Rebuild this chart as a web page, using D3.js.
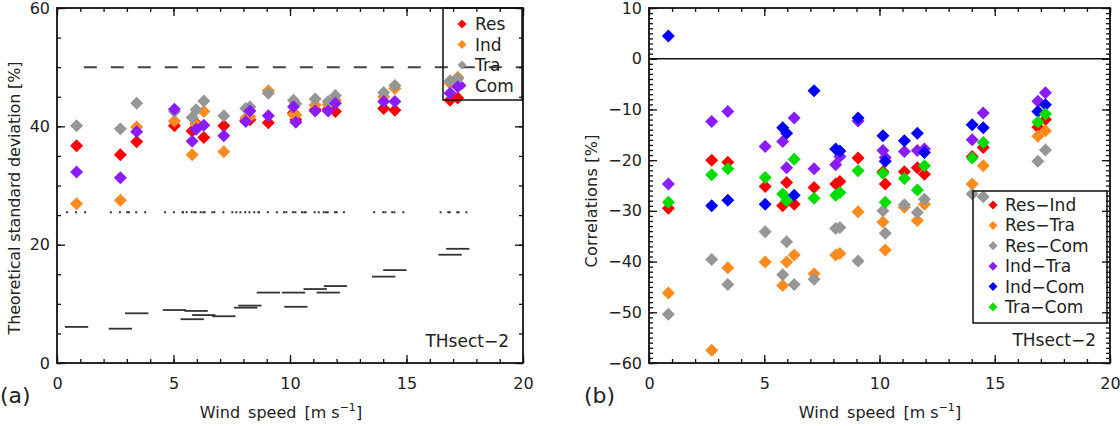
<!DOCTYPE html>
<html><head><meta charset="utf-8">
<script src="https://cdn.jsdelivr.net/npm/d3@7"></script>
<style>
body{margin:0;background:#fff;}
svg{display:block;font-family:"DejaVu Sans",sans-serif;}
</style></head>
<body><svg id="c" width="1120" height="426"></svg>
<script>
// ---------- data ----------
const windSpeed = [0.84, 2.72, 3.42, 5.04, 5.80, 5.97, 6.30, 7.16, 8.10, 8.28, 9.07, 10.15, 10.25, 11.08, 11.64, 11.95, 14.02, 14.50, 16.87, 17.20];

// panel (a): theoretical standard deviation [%]
const sdRes = [36.7, 35.2, 37.4, 40.1, 39.2, 40.5, 38.1, 40.1, 41.0, 41.1, 40.6, 42.3, 41.1, 42.8, 42.9, 42.5, 43.0, 42.7, 44.4, 44.8];
const sdInd = [26.9, 27.5, 39.9, 40.9, 35.2, 40.3, 42.5, 35.7, 41.4, 41.6, 46.0, 42.0, 41.9, 43.6, 43.7, 44.4, 45.0, 46.4, 47.3, 48.3];
const sdTra = [40.1, 39.6, 43.9, 42.5, 41.5, 42.8, 44.3, 41.8, 43.0, 43.3, 45.6, 44.4, 43.8, 44.6, 44.2, 45.2, 45.7, 46.9, 47.7, 48.1];
const sdCom = [32.3, 31.3, 39.1, 42.9, 37.5, 39.5, 40.2, 38.4, 40.8, 42.6, 41.8, 43.3, 40.7, 42.6, 42.6, 43.9, 44.2, 44.2, 45.6, 46.7];
const sdBar = [6.1, 5.8, 8.4, 8.95, 7.4, 8.8, 8.1, 7.9, 9.35, 9.7, 11.9, 11.9, 9.5, 12.5, 11.9, 13.0, 14.6, 15.7, 18.3, 19.3];
const sdDot = [25.5, 25.5, 25.5, 25.5, 25.5, 25.5, 25.5, 25.5, 25.5, 25.5, 25.5, 25.5, 25.5, 25.5, 25.5, 25.5, 25.5, 25.5, 25.5, 25.5];
const sdRef = 50;
const sdSeries = ["Res", "Ind", "Tra", "Com"];

// panel (b): correlations [%]
const cResInd = [-29.5, -20.0, -20.4, -25.2, -29.0, -24.4, -28.7, -25.4, -24.7, -24.2, -19.6, -22.3, -24.7, -22.3, -21.5, -22.8, -19.3, -17.5, -13.5, -12.0];
const cResTra = [-46.2, -57.5, -41.2, -40.1, -44.7, -40.1, -38.7, -42.4, -38.7, -38.4, -30.2, -32.2, -37.7, -29.3, -31.9, -28.7, -24.7, -21.1, -15.3, -14.2];
const cResCom = [-50.4, -39.6, -44.5, -34.1, -42.6, -36.1, -44.5, -43.5, -33.5, -33.3, -39.9, -30.0, -34.4, -28.8, -30.3, -27.7, -26.7, -27.2, -20.2, -18.0];
const cIndTra = [-24.7, -12.4, -10.4, -17.3, -16.3, -21.5, -11.7, -21.7, -20.9, -19.3, -12.3, -18.1, -19.5, -18.3, -18.1, -17.8, -16.0, -10.7, -8.4, -6.7];
const cIndCom = [4.5, -29.0, -27.9, -28.7, -13.6, -14.7, -26.9, -6.3, -17.8, -18.2, -11.7, -15.2, -20.2, -16.2, -14.7, -18.5, -13.0, -13.6, -10.4, -9.1];
const cTraCom = [-28.3, -22.9, -21.7, -23.4, -26.7, -28.0, -19.8, -27.5, -26.9, -26.4, -22.1, -22.6, -28.3, -23.6, -25.9, -21.1, -19.6, -16.5, -12.5, -10.9];
const cSeries = ["Res\u2212Ind", "Res\u2212Tra", "Res\u2212Com", "Ind\u2212Tra", "Ind\u2212Com", "Tra\u2212Com"];

const xTicks = [0, 5, 10, 15, 20];
const yTicksA = [0, 20, 40, 60];
const yTicksB = [-60, -50, -40, -30, -20, -10, 0, 10];

// ---------- styles ----------
const colA = ["#ff0000", "#ff8a1e", "#969696", "#8a1cff"];
const colB = ["#ff0000", "#ff8a1e", "#969696", "#8a1cff", "#0000ff", "#00dd00"];
const svg = d3.select("#c");
const FS = 16;

function diamond(r){ return `M0,${-r}L${r},0L0,${r}L${-r},0Z`; }

function frame(g, x, y, xMinor, yMinor, yFmt){
  const [x0,x1] = x.range(), [y0,y1] = y.range();
  g.append("g").attr("transform",`translate(0,${y0})`).call(d3.axisBottom(x).tickValues(xMinor).tickSize(-4).tickFormat(""));
  g.append("g").attr("transform",`translate(0,${y1})`).call(d3.axisTop(x).tickValues(xMinor).tickSize(-4).tickFormat(""));
  g.append("g").attr("transform",`translate(${x0},0)`).call(d3.axisLeft(y).tickValues(yMinor).tickSize(-4).tickFormat(""));
  g.append("g").attr("transform",`translate(${x1},0)`).call(d3.axisRight(y).tickValues(yMinor).tickSize(-4).tickFormat(""));
  g.append("g").attr("class","lab").attr("transform",`translate(0,${y0})`).call(d3.axisBottom(x).tickValues(xTicks).tickSize(-8).tickPadding(15));
  g.append("g").attr("transform",`translate(0,${y1})`).call(d3.axisTop(x).tickValues(xTicks).tickSize(-8).tickFormat(""));
  g.append("g").attr("class","lab").attr("transform",`translate(${x0},0)`).call(d3.axisLeft(y).tickValues(yFmt).tickSize(-8).tickPadding(7).tickFormat(d=>d<0?"\u2212"+Math.abs(d):d));
  g.append("g").attr("transform",`translate(${x1},0)`).call(d3.axisRight(y).tickValues(yFmt).tickSize(-8).tickFormat(""));
  g.selectAll(".domain").attr("stroke","none");
  g.selectAll(".tick line").attr("stroke","#111").attr("stroke-width",1.3);
  g.selectAll(".lab text").attr("font-size",FS).attr("fill","#222").attr("font-family","DejaVu Sans");
  g.append("rect").attr("x",x0).attr("y",y1).attr("width",x1-x0).attr("height",y0-y1)
    .attr("fill","none").attr("stroke","#111").attr("stroke-width",1.8);
}

function xTitle(g, cx){
  const t = g.append("text").attr("x",cx).attr("y",418).attr("text-anchor","middle")
    .attr("font-size",FS).attr("fill","#222");
  t.append("tspan").text("Wind\u2002speed\u2002[m s");
  t.append("tspan").attr("font-size",11).attr("dy",-7).text("\u22121");
  t.append("tspan").attr("dy",7).text("]");
}

// ================= panel (a) =================
const xA = d3.scaleLinear([0,20],[57,523]);
const yA = d3.scaleLinear([0,60],[363,8]);
const gA = svg.append("g");

gA.append("line").attr("x1",xA(1.15)).attr("x2",xA(20)).attr("y1",yA(sdRef)).attr("y2",yA(sdRef))
  .attr("stroke","#444").attr("stroke-width",2).attr("stroke-dasharray","13,14");
gA.append("g").selectAll("line").data(windSpeed).join("line")
  .attr("x1",(d)=>xA(d-0.45)).attr("x2",(d)=>xA(d+0.5))
  .attr("y1",(d,i)=>yA(sdDot[i])).attr("y2",(d,i)=>yA(sdDot[i]))
  .attr("stroke","#333").attr("stroke-width",2).attr("stroke-dasharray","2,7");
gA.append("g").selectAll("line").data(windSpeed).join("line")
  .attr("x1",(d)=>xA(d-0.5)).attr("x2",(d)=>xA(d+0.5))
  .attr("y1",(d,i)=>yA(sdBar[i])).attr("y2",(d,i)=>yA(sdBar[i]))
  .attr("stroke","#333").attr("stroke-width",1.8);

[sdRes, sdInd, sdTra, sdCom].forEach((s,k)=>{
  gA.append("g").selectAll("path").data(s).join("path")
    .attr("d",diamond(6.5)).attr("fill",colA[k])
    .attr("transform",(d,i)=>`translate(${xA(windSpeed[i])},${yA(d)})`);
});

frame(gA, xA, yA, d3.range(0,21,1), d3.range(0,61,5), yTicksA);

gA.append("rect").attr("x",443).attr("y",8).attr("width",79).attr("height",92)
  .attr("fill","none").attr("stroke","#111").attr("stroke-width",1.5);
sdSeries.forEach((n,k)=>{
  const yy = 24 + k*20.5;
  gA.append("path").attr("d",diamond(4.5)).attr("fill",colA[k]).attr("transform",`translate(462,${yy})`);
  gA.append("text").attr("x",475).attr("y",yy+6).attr("font-size",17).attr("fill","#222").text(n);
});
gA.append("text").attr("x",509).attr("y",347).attr("text-anchor","end").attr("font-size",17).attr("fill","#222").text("THsect\u22122");
gA.append("text").attr("transform","translate(20,198) rotate(-90)").attr("text-anchor","middle")
  .attr("font-size",FS).attr("fill","#222").attr("textLength",273).attr("lengthAdjust","spacing")
  .text("Theoretical standard deviation [%]");
xTitle(gA, 281);
gA.append("text").attr("x",0).attr("y",403).attr("font-size",22).attr("fill","#222").text("(a)");

// ================= panel (b) =================
const xB = d3.scaleLinear([0,20],[649,1110]);
const yB = d3.scaleLinear([-60,10],[363,8]);
const gB = svg.append("g");

gB.append("line").attr("x1",xB(0)).attr("x2",xB(20)).attr("y1",yB(0)).attr("y2",yB(0))
  .attr("stroke","#111").attr("stroke-width",1.6);

[cResInd, cResTra, cResCom, cIndTra, cIndCom, cTraCom].forEach((s,k)=>{
  gB.append("g").selectAll("path").data(s).join("path")
    .attr("d",diamond(6.5)).attr("fill",colB[k])
    .attr("transform",(d,i)=>`translate(${xB(windSpeed[i])},${yB(d)})`);
});

frame(gB, xB, yB, d3.range(0,21,1), d3.range(-60,11,1), yTicksB);

gB.append("rect").attr("x",973).attr("y",191).attr("width",134).attr("height",132)
  .attr("fill","none").attr("stroke","#111").attr("stroke-width",1.5);
cSeries.forEach((n,k)=>{
  const yy = 205 + k*20.4;
  gB.append("path").attr("d",diamond(4.5)).attr("fill",colB[k]).attr("transform",`translate(993,${yy})`);
  gB.append("text").attr("x",1005).attr("y",yy+6).attr("font-size",17).attr("fill","#222").text(n);
});
gB.append("text").attr("x",1096).attr("y",346).attr("text-anchor","end").attr("font-size",17).attr("fill","#222").text("THsect\u22122");
gB.append("text").attr("transform","translate(597,201) rotate(-90)").attr("text-anchor","middle")
  .attr("font-size",FS).attr("fill","#222").attr("textLength",133).attr("lengthAdjust","spacing")
  .text("Correlations [%]");
xTitle(gB, 880);
gB.append("text").attr("x",584).attr("y",403).attr("font-size",22).attr("fill","#222").text("(b)");
</script></body></html>
